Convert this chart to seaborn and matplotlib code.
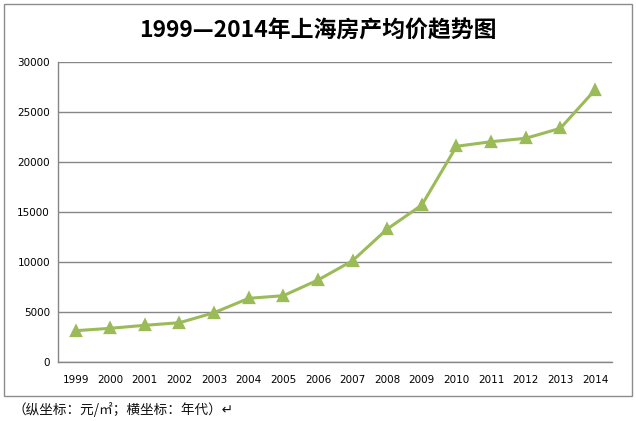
import matplotlib
matplotlib.use("Agg")
import matplotlib.pyplot as plt
import seaborn as sns
import pandas as pd
from matplotlib.patches import Rectangle

years = ["1999", "2000", "2001", "2002", "2003", "2004", "2005", "2006",
         "2007", "2008", "2009", "2010", "2011", "2012", "2013", "2014"]
prices = [3160, 3400, 3700, 3960, 4960, 6400, 6660, 8230,
          10160, 13330, 15730, 21600, 22060, 22400, 23400, 27230]
yticks = [0, 5000, 10000, 15000, 20000, 25000, 30000]
title = "1999—2014年上海房产均价趋势图"
caption = "（纵坐标：元/㎡；横坐标：年代）↵"

sns.set_style("white")
plt.rcParams['font.family'] = ['DejaVu Sans', 'Noto Sans CJK SC']
plt.rcParams['text.color'] = 'black'
plt.rcParams['xtick.color'] = 'black'
plt.rcParams['ytick.color'] = 'black'

df = pd.DataFrame({"year": years, "price": prices})

fig = plt.figure(figsize=(6.36, 4.21), dpi=100)
ax = fig.add_axes([58.3/636, 1-362.3/421, (612.3-58.3)/636, 300/421])

sns.pointplot(data=df, x="year", y="price", ax=ax, color="#9BBB59",
              markers="^", linestyles="-", markersize=6.5, linewidth=2.2,
              errorbar=None)

ax.set_xlim(-0.5, len(years)-0.5)
ax.set_ylim(0, 30000)
ax.set_yticks(yticks)
ax.set_yticklabels([str(v) for v in yticks], fontsize=7.5)
ax.set_xticks(range(len(years)))
ax.set_xticklabels(years, fontsize=7.5)
ax.set_xticks([i - 0.5 for i in range(len(years)+1)], minor=True)
ax.tick_params(axis='x', which='major', length=0, pad=9)
ax.tick_params(axis='x', which='minor', length=4, color="#868686", width=1)
ax.tick_params(axis='y', length=0, pad=6)
ax.set_xlabel("")
ax.set_ylabel("")
ax.yaxis.grid(True, color="#868686", linewidth=1)
ax.set_axisbelow(True)
for s in ["top", "right"]:
    ax.spines[s].set_visible(False)
for s in ["left", "bottom"]:
    ax.spines[s].set_color("#868686")
    ax.spines[s].set_linewidth(1)

fig.text(318/636, 1-31/421, title, ha="center", va="center", fontsize=16.5,
         fontweight="bold", color="black",
         family=['Noto Sans CJK SC', 'DejaVu Sans'])

fig.patches.append(Rectangle((4/636, 1-396/421), 628/636, 392/421,
                             transform=fig.transFigure, fill=False,
                             edgecolor="#8c8c8c", linewidth=1))

fig.text(12/636, 1-410/421, caption, ha="left", va="center", fontsize=9.8,
         color="#111111", family=['Noto Sans CJK SC', 'DejaVu Sans'])

fig.savefig("out.png", dpi=100)
